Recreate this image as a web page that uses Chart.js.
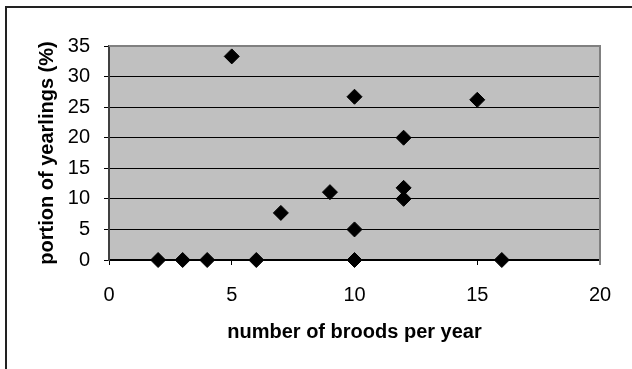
<!DOCTYPE html>
<html lang="en">
<head>
    <meta charset="UTF-8">
    <title>Yearlings vs broods</title>
    <script src="https://cdn.jsdelivr.net/npm/chart.js"></script>
    <style>
        body {
            margin: 0;
            background: #fff;
        }
        #wrap {
            position: relative;
            width: 632px;
            height: 369px;
        }
        #frame {
            position: absolute;
            left: 5px;
            top: 6px;
            right: 0;
            bottom: 0;
            border-left: 2px solid #222;
            border-top: 2px solid #222;
            pointer-events: none;
        }
    </style>
</head>
<body>
    <div id="wrap">
        <canvas id="chart" width="632" height="369"></canvas>
        <div id="frame"></div>
    </div>

    <script>
        // broods per year (x) and portion of yearlings in % (y)
        const broods = [2, 3, 4, 5, 6, 7, 9, 10, 10, 10, 12, 12, 12, 15, 16];
        const yearlings = [0, 0, 0, 33.3, 0, 7.7, 11.1, 26.7, 5, 0, 20, 11.8, 10, 26.2, 0];

        const xTicks = [0, 5, 10, 15, 20];
        const yTicks = [0, 5, 10, 15, 20, 25, 30, 35];

        const points = broods.map((b, i) => ({ x: b, y: yearlings[i] }));

        // grey plot area like the old spreadsheet charts
        const plotArea = {
            id: 'plotArea',
            beforeDraw(chart) {
                const { ctx, chartArea: a } = chart;
                ctx.save();
                ctx.fillStyle = '#c0c0c0';
                ctx.fillRect(a.left, a.top, a.right - a.left, a.bottom - a.top);
                ctx.restore();
            },
            beforeDatasetsDraw(chart) {
                const { ctx, chartArea: a } = chart;
                ctx.save();
                ctx.strokeStyle = '#808080';
                ctx.lineWidth = 2;
                ctx.beginPath();
                ctx.moveTo(a.left, a.top);
                ctx.lineTo(a.right, a.top);
                ctx.lineTo(a.right, a.bottom + 5);
                ctx.stroke();
                ctx.restore();
            }
        };

        const ctx = document.getElementById('chart').getContext('2d');

        new Chart(ctx, {
            type: 'scatter',
            data: {
                datasets: [{
                    data: points,
                    pointStyle: 'rectRot',
                    pointRadius: 7.5,
                    backgroundColor: '#000',
                    borderColor: '#000',
                    borderWidth: 1,
                    clip: false
                }]
            },
            options: {
                responsive: false,
                animation: false,
                layout: {
                    padding: { left: 0, top: 46, right: 32, bottom: 0 }
                },
                plugins: {
                    legend: { display: false },
                    tooltip: { enabled: false }
                },
                scales: {
                    x: {
                        type: 'linear',
                        min: 0,
                        max: 20,
                        afterBuildTicks: (scale) => {
                            scale.ticks = xTicks.map(v => ({ value: v }));
                        },
                        afterFit: (scale) => { scale.height = 109; },
                        grid: {
                            drawOnChartArea: false,
                            tickLength: 5,
                            tickColor: '#000'
                        },
                        border: { color: '#000', width: 1.5 },
                        ticks: {
                            color: '#000',
                            padding: 18,
                            font: { family: 'Liberation Sans, Arial', size: 20 }
                        },
                        title: {
                            display: true,
                            text: 'number of broods per year',
                            color: '#000',
                            font: { family: 'Liberation Sans, Arial', size: 20, weight: 'bold' },
                            padding: { bottom: 25 }
                        }
                    },
                    y: {
                        type: 'linear',
                        min: 0,
                        max: 35,
                        afterBuildTicks: (scale) => {
                            scale.ticks = yTicks.map(v => ({ value: v }));
                        },
                        afterFit: (scale) => { scale.width = 109; },
                        grid: {
                            color: (c) => c.tick && c.tick.value === 35 ? 'rgba(0,0,0,0)' : '#000',
                            tickColor: '#000',
                            tickLength: 5,
                            lineWidth: 1
                        },
                        border: { color: '#404040', width: 2 },
                        ticks: {
                            color: '#000',
                            padding: 14,
                            font: { family: 'Liberation Sans, Arial', size: 20 }
                        },
                        title: {
                            display: true,
                            text: 'portion of yearlings (%)',
                            color: '#000',
                            font: { family: 'Liberation Sans, Arial', size: 20, weight: 'bold' },
                            padding: { top: 35.6 }
                        }
                    }
                }
            },
            plugins: [plotArea]
        });
    </script>
</body>
</html>
